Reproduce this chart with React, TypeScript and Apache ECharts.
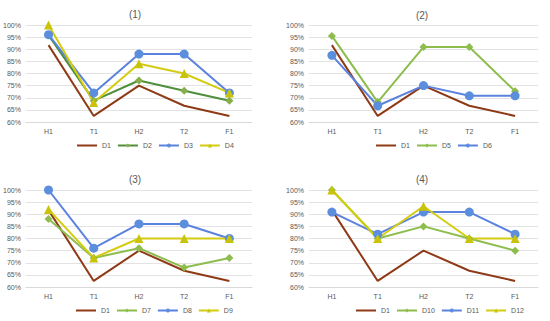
import React, { useEffect, useRef } from "react";
import * as echarts from "echarts";

const categories = ["H1", "T1", "H2", "T2", "F1"];
const yTicks = { min: 60, max: 100, interval: 5 };

const D1 = [91.7, 62.5, 75, 66.7, 62.5];
const D2 = [95.8, 68.8, 77.1, 72.9, 68.8];
const D3 = [96, 72, 88, 88, 72];
const D4 = [100, 68, 84, 80, 72];
const D5 = [95.5, 68.2, 90.9, 90.9, 72.7];
const D6 = [87.5, 66.7, 75, 70.8, 70.8];
const D7 = [88, 72, 76, 68, 72];
const D8 = [100, 76, 86, 86, 80];
const D9 = [92, 72, 80, 80, 80];
const D10 = [100, 80, 85, 80, 75];
const D11 = [90.9, 81.8, 90.9, 90.9, 81.8];
const D12 = [100, 80, 93.3, 80, 80];

const panelTitles = ["(1)", "(2)", "(3)", "(4)"];

const RED = "#8E3A16";
const DKGREEN = "#4E8E3C";
const LTGREEN = "#8DBD4C";
const BLUE = "#5B82DE";
const YELLOW = "#D4CC10";

type Style = { color: string; marker: string; symbol: string; size: number };
const styles: Record<string, Style> = {
  D1: { color: RED, marker: RED, symbol: "none", size: 0 },
  D2: { color: DKGREEN, marker: "#86AE4A", symbol: "diamond", size: 8 },
  D3: { color: BLUE, marker: "#5B8EDC", symbol: "circle", size: 9 },
  D4: { color: YELLOW, marker: "#C9C40A", symbol: "triangle", size: 9 },
  D5: { color: LTGREEN, marker: "#8DBD4C", symbol: "diamond", size: 8 },
  D6: { color: BLUE, marker: "#5B8EDC", symbol: "circle", size: 9 },
  D7: { color: LTGREEN, marker: "#8DBD4C", symbol: "diamond", size: 8 },
  D8: { color: BLUE, marker: "#5B8EDC", symbol: "circle", size: 9 },
  D9: { color: YELLOW, marker: "#C9C40A", symbol: "triangle", size: 9 },
  D10: { color: LTGREEN, marker: "#8DBD4C", symbol: "diamond", size: 8 },
  D11: { color: BLUE, marker: "#5B8EDC", symbol: "circle", size: 9 },
  D12: { color: YELLOW, marker: "#C9C40A", symbol: "triangle", size: 9 },
};

const panelSeries: [string, number[]][][] = [
  [["D1", D1], ["D2", D2], ["D3", D3], ["D4", D4]],
  [["D1", D1], ["D5", D5], ["D6", D6]],
  [["D1", D1], ["D7", D7], ["D8", D8], ["D9", D9]],
  [["D1", D1], ["D10", D10], ["D11", D11], ["D12", D12]],
];

const grids = [
  { left: 23, top: 25, width: 229, height: 97 },
  { left: 309, top: 25, width: 229, height: 97 },
  { left: 23, top: 190, width: 229, height: 97 },
  { left: 309, top: 190, width: 229, height: 97 },
];
const titlePos = [
  { x: 130, y: 4 },
  { x: 417, y: 5 },
  { x: 130, y: 169 },
  { x: 417, y: 169 },
];
const legendPos = [
  { x: 76, y: 142 },
  { x: 375, y: 142 },
  { x: 75, y: 307 },
  { x: 355, y: 307 },
];

export default function App() {
  const ref = useRef<HTMLDivElement>(null);
  useEffect(() => {
    if (!ref.current) return;
    const chart = echarts.init(ref.current, undefined, { renderer: "svg" });
    const series: any[] = [];
    panelSeries.forEach((list, pi) => {
      list.forEach(([name, data]) => {
        const s = styles[name];
        series.push({
          type: "line",
          name,
          data,
          xAxisIndex: pi,
          yAxisIndex: pi,
          symbol: s.symbol,
          symbolSize: s.size,
          showSymbol: s.symbol !== "none",
          lineStyle: { color: s.color, width: 2 },
          itemStyle: { color: s.marker },
        });
      });
    });
    chart.setOption({
      animation: false,
      backgroundColor: "#ffffff",
      title: panelTitles.map((t, i) => ({
        text: t,
        left: titlePos[i].x,
        top: titlePos[i].y,
        textAlign: "center",
        textStyle: { fontSize: 10, fontWeight: "normal", color: "#595959", fontFamily: "Liberation Sans" },
      })),
      legend: panelSeries.map((list, i) => ({
        data: list.map(([n]) =>
          n === "D1" ? { name: n, itemStyle: { opacity: 0 } } : { name: n }
        ),
        left: legendPos[i].x,
        top: legendPos[i].y,
        orient: "horizontal",
        itemWidth: 20,
        itemHeight: 5,
        itemGap: 6,
        padding: 0,
        textStyle: { fontSize: 7, color: "#595959", fontFamily: "Liberation Sans" },
        selectedMode: false,
      })),
      grid: grids,
      xAxis: grids.map((_, i) => ({
        type: "category",
        gridIndex: i,
        data: categories,
        boundaryGap: true,
        axisLine: { lineStyle: { color: "#D9D9D9" } },
        axisTick: { show: false },
        axisLabel: { fontSize: 7, color: "#595959", margin: 6, fontFamily: "Liberation Sans" },
      })),
      yAxis: grids.map((_, i) => ({
        type: "value",
        gridIndex: i,
        min: yTicks.min,
        max: yTicks.max,
        interval: yTicks.interval,
        axisLine: { show: false },
        axisTick: { show: false },
        splitLine: { lineStyle: { color: "#E3E3E3" } },
        axisLabel: { fontSize: 7, color: "#595959", margin: 5, formatter: "{value}%", fontFamily: "Liberation Sans" },
      })),
      series,
    });
    return () => chart.dispose();
  }, []);
  return (
    <div
      ref={ref}
      style={{ position: "fixed", left: 0, top: 0, width: 550, height: 321 }}
    />
  );
}
